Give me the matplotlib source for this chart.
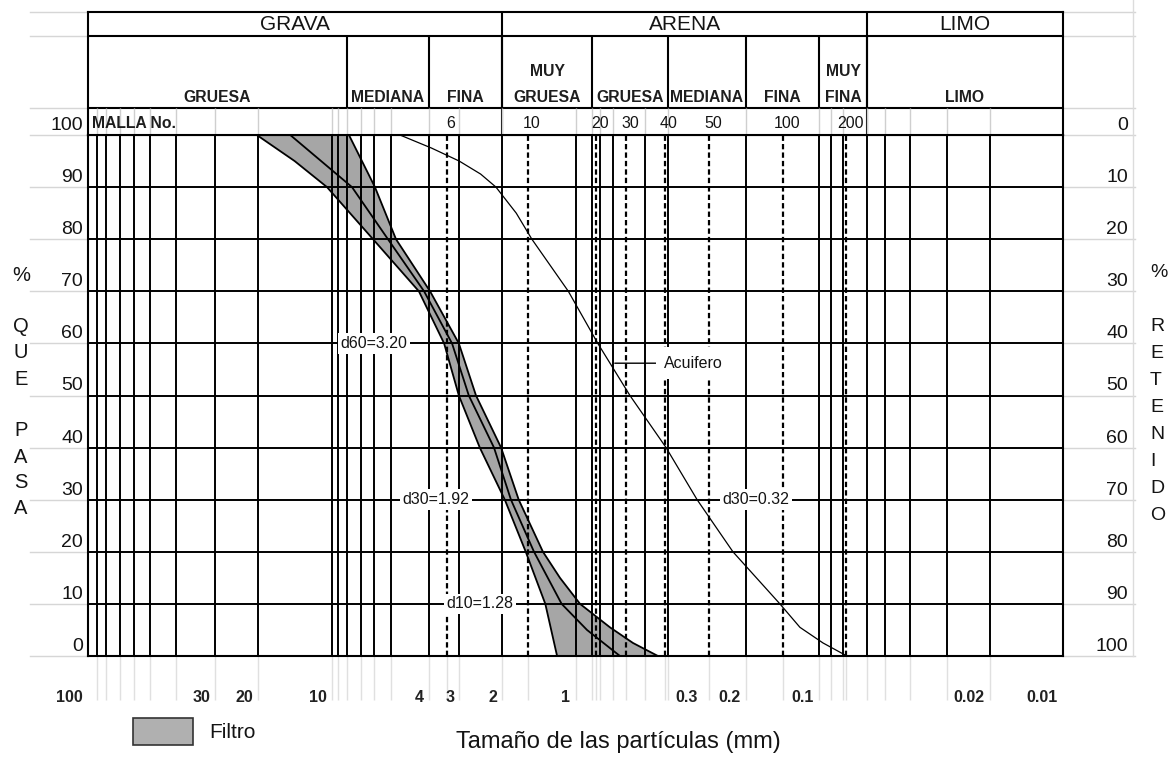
import matplotlib

matplotlib.use("Agg")
import matplotlib.pyplot as plt
import numpy as np
from matplotlib.lines import Line2D
from matplotlib.patches import Rectangle
from matplotlib.transforms import offset_copy

plt.rcParams["font.family"] = ["Liberation Sans", "DejaVu Sans"]

# Filter envelope and aquifer curve: % passing vs particle size (mm)
coarse_pct = [100, 95, 90, 80, 70, 60, 50, 40, 30, 20, 10, 0]
coarse_mm = [20.3, 14.2, 10.46, 6.77, 4.39, 3.46, 3.01, 2.47, 1.95, 1.60, 1.33, 1.19]
mid_pct = [100, 90, 80, 70, 60, 50, 40, 30, 20, 10, 5, 0]
mid_mm = [14.8, 8.26, 5.88, 4.18, 3.21, 2.74, 2.16, 1.84, 1.48, 1.14, 0.897, 0.657]
fine_pct = [100, 90, 80, 70, 60, 50, 40, 30, 20, 15, 10, 5.5, 2.5, 0]
fine_mm = [8.50, 6.65, 5.45, 3.95, 3.01, 2.56, 2.02, 1.71, 1.36, 1.158, 0.958, 0.722, 0.581, 0.459]
aquifer_pct = [100, 97.5, 95, 92.5, 90, 85, 80, 70, 60, 50, 40, 30, 20, 10, 5.5, 2.5, 0]
aquifer_mm = [5.25, 3.9, 3.0, 2.45, 2.12, 1.75, 1.51, 1.07, 0.81, 0.598, 0.425, 0.317, 0.226,
              0.145, 0.12, 0.0965, 0.077]

# Chart grid
grid_mm = [92, 84.4, 73.9, 64.8, 55.7, 43.5, 30, 20, 10, 9.42, 8.66, 7.59, 6.71, 5.71,
           4, 3, 2, 1, 0.856, 0.793, 0.702, 0.519, 0.417, 0.2, 0.1, 0.0895, 0.080,
           0.0637, 0.0537, 0.0425, 0.0299, 0.02]
sieve_no = ["6", "10", "20", "30", "40", "50", "100", "200"]
sieve_mm = [3.37, 1.57, 0.824, 0.621, 0.43, 0.283, 0.141, 0.0776]
size_ticks = [100, 30, 20, 10, 4, 3, 2, 1, 0.3, 0.2, 0.1, 0.02, 0.01]
size_labels = ["100", "30", "20", "10", "4", "3", "2", "1", "0.3", "0.2", "0.1", "0.02", "0.01"]
pct_ticks = [0, 10, 20, 30, 40, 50, 60, 70, 80, 90, 100]

# Header classification
groups = ["GRAVA", "ARENA", "LIMO"]
group_edges = [100, 2, 0.0637, 0.01]
subgroups = ["GRUESA", "MEDIANA", "FINA", "MUY\nGRUESA", "GRUESA", "MEDIANA", "FINA", "MUY\nFINA", "LIMO"]
subgroup_edges = [100, 8.66, 4, 2, 0.856, 0.417, 0.2, 0.1, 0.0637, 0.01]

# Annotations
d_labels = ["d60=3.20", "d30=1.92", "d10=1.28", "d30=0.32"]
d_label_mm = [6.71, 3.73, 2.47, 0.1817]
d_label_pct = [60, 30, 10, 30]

W, H = 1168, 759
TXT = "#141414"


def fx(px):
    return px / W


def fy(py):
    return 1 - py / H


fig = plt.figure(figsize=(W / 100, H / 100), dpi=100)
fig.patch.set_facecolor("white")

ax = fig.add_axes([fx(88), fy(656), fx(1063) - fx(88), fy(135) - fy(656)])
hx = fig.add_axes([fx(88), fy(135), fx(1063) - fx(88), fy(12) - fy(135)])

for a in (ax, hx):
    a.set_xscale("log")
    a.tick_params(which="both", bottom=False, left=False, labelbottom=False, labelleft=False)
    for s in a.spines.values():
        s.set_linewidth(1.5)
        s.set_color("black")

# --- faint scan-sheet lines outside the frame
for v in pct_ticks:
    for x0, x1 in ((-0.0595, 0), (1, 1.0738)):
        ax.plot([x0, x1], [v, v], transform=ax.get_yaxis_transform(), color="#d6d6d6",
                lw=1, clip_on=False, zorder=0)
hrows = [1, (135 - 36) / 123, (135 - 108) / 123]
for v in hrows:
    for x0, x1 in ((-0.0595, 0), (1, 1.0738)):
        hx.plot([x0, x1], [v, v], transform=hx.get_yaxis_transform(), color="#d6d6d6",
                lw=1, clip_on=False, zorder=0)
ax.vlines(grid_mm + sieve_mm, -0.085, 0, transform=ax.get_xaxis_transform(),
          color="#e0e0e0", lw=1, clip_on=False, zorder=0)
fig.add_artist(Line2D([fx(1133)] * 2, [fy(0), fy(656)], transform=fig.transFigure,
                      color="#dcdcdc", lw=1))

# --- main grid
ax.fill(np.r_[coarse_mm, fine_mm[::-1]], np.r_[coarse_pct, fine_pct[::-1]],
        color="#a6a6a6", lw=0, zorder=1)
ax.vlines(grid_mm, 0, 100, color="black", lw=1.4, zorder=2)
ax.hlines(pct_ticks[1:-1], 100, 0.01, color="black", lw=1.4, zorder=2)
ax.vlines(sieve_mm, 0, 100, color="black", lw=1.6, linestyles=(0, (2.4, 1.4)), zorder=2)

# --- curves
for xs, ys in ((coarse_mm, coarse_pct), (mid_mm, mid_pct), (fine_mm, fine_pct)):
    ax.plot(xs, ys, color="black", lw=1.3, zorder=3, solid_joinstyle="round")
ax.plot(aquifer_mm, aquifer_pct, color="black", lw=0.9, zorder=3, solid_joinstyle="round")

for lab, xm, yp in zip(d_labels, d_label_mm, d_label_pct):
    ax.text(xm, yp, lab, ha="center", va="center", fontsize=11.5, color=TXT, zorder=5,
            bbox=dict(fc="white", ec="none", pad=2))
ax.annotate("Acuifero", xy=(0.69, 56.2), xytext=(0.433, 56.2), ha="left", va="center",
            fontsize=11.5, color=TXT, zorder=5,
            bbox=dict(fc="white", ec="none", pad=6),
            arrowprops=dict(arrowstyle="-", color="black", lw=1, shrinkA=0, shrinkB=0))

ax.set_xlim(100, 0.01)
ax.set_ylim(0, 100)

# --- tick labels
left_tr = offset_copy(ax.get_yaxis_transform(), fig=fig, x=-5, y=1, units="dots")
right_tr = offset_copy(ax.get_yaxis_transform(), fig=fig, x=65, y=1, units="dots")
for v in pct_ticks:
    ax.text(0, v, str(v), transform=left_tr, ha="right", va="bottom", fontsize=14, color=TXT)
    ax.text(1, v, str(100 - v), transform=right_tr, ha="right", va="bottom", fontsize=14,
            color=TXT)
bot_tr = offset_copy(ax.get_xaxis_transform(), fig=fig, x=-5, y=-41, units="dots")
for v, lab in zip(size_ticks, size_labels):
    ax.text(v, 0, lab, transform=bot_tr, ha="right", va="center", fontsize=11.5,
            fontweight="bold", color="#222222")

# --- header table
hx.set_xlim(100, 0.01)
hx.set_ylim(0, 1)
hx.axhline(hrows[1], color="black", lw=1.5)
hx.axhline(hrows[2], color="black", lw=1.5)
hx.vlines(subgroup_edges[1:-1], hrows[2], hrows[1], color="black", lw=1.5)
hx.vlines(group_edges[1:-1], 0, 1, color="black", lw=1.5)
hx.vlines(grid_mm, 0, hrows[2], color="#cfcfcf", lw=1)
for name, lo, hi in zip(groups, group_edges[:-1], group_edges[1:]):
    hx.text(np.sqrt(lo * hi), (135 - 24) / 123, name, ha="center", va="center",
            fontsize=15, color=TXT)
for name, lo, hi in zip(subgroups, subgroup_edges[:-1], subgroup_edges[1:]):
    lines = name.split("\n")
    ys = [72, 97] if len(lines) == 2 else [97]
    for line, ypx in zip(lines, ys):
        hx.text(np.sqrt(lo * hi), (135 - ypx) / 123, line, ha="center", va="center",
                fontsize=11.3, fontweight="bold", color="#1e1e1e")
hx.text(4 / 975, (135 - 123) / 123, "MALLA No.", transform=hx.transAxes, ha="left",
        va="center", fontsize=11.3, fontweight="bold", color="#1e1e1e")
malla_tr = offset_copy(hx.transData, fig=fig, x=4, y=0, units="dots")
for lab, xm in zip(sieve_no, sieve_mm):
    hx.text(xm, (135 - 123) / 123, lab, transform=malla_tr, ha="center", va="center",
            fontsize=11.5, color=TXT)

# --- side titles
for i, ch in enumerate(["%", "", "Q", "U", "E", "", "P", "A", "S", "A"]):
    fig.text(fx(21), fy(275 + 26 * i), ch, ha="center", va="center", fontsize=14.5, color=TXT)
for i, ch in enumerate(["%", "", "R", "E", "T", "E", "N", "I", "D", "O"]):
    fig.text(fx(1150), fy(273 + 26.9 * i), ch, ha="left", va="center", fontsize=14,
             color=TXT)

# --- legend and axis title
fig.add_artist(Rectangle((fx(133), fy(745)), fx(60), 27 / H, transform=fig.transFigure,
                         fc="#b0b0b0", ec="#333333", lw=1.2))
fig.text(fx(209), fy(733), "Filtro", ha="left", va="center", fontsize=15, color=TXT)
fig.text(fx(618), fy(742), "Tamaño de las partículas (mm)", ha="center", va="center",
         fontsize=17, color=TXT)

fig.savefig("out.png", dpi=100)
